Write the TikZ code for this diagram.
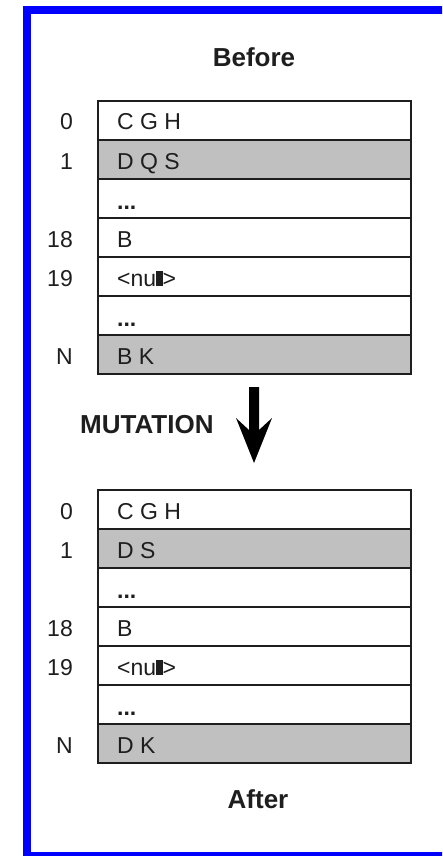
\documentclass[tikz,border=0pt]{standalone}
\usepackage{fontspec}
\setmainfont{Liberation Sans}
\definecolor{cellgray}{RGB}{192,192,192}
\definecolor{frameblue}{RGB}{0,0,255}
\definecolor{ink}{RGB}{30,30,30}
\newcommand\mydots{\raisebox{-1.5pt}{\bfseries...}}
\newcommand\mynull{<nu\rule{6.5pt}{15.5pt}>}
\begin{document}
\begin{tikzpicture}[x=1pt,y=-1pt,
  row/.style={draw=ink, line width=2pt, minimum width=313pt, minimum height=39pt, inner sep=0pt, anchor=north west},
  shaded/.style={fill=cellgray},
  celltext/.style={anchor=base west, inner sep=0pt, font=\fontsize{23}{27}\selectfont, text=ink},
  idx/.style={anchor=base east, inner sep=0pt, font=\fontsize{23}{27}\selectfont, text=ink},
  title/.style={anchor=base, inner sep=0pt, font=\bfseries\fontsize{26}{30}\selectfont, text=ink}
]
\useasboundingbox (0,0) rectangle (442,856);
\clip (0,0) rectangle (442,856);
\fill[white] (0,0) rectangle (442,856);
\draw[frameblue, line width=8pt] (460,10) -- (27,10) -- (27,856) -- (460,856);

% Before table
\node[title] (tBefore) at (254,67) {Before};
\node[row] (b0) at (97,100) {};
\node[row,shaded] (b1) at (97,139) {};
\node[row] (b2) at (97,178) {};
\node[row] (b3) at (97,217) {};
\node[row] (b4) at (97,256) {};
\node[row] (b5) at (97,295) {};
\node[row,shaded] (b6) at (97,334) {};

\foreach \r/\i/\t in {0/0/C G H, 1/1/D Q S, 2//\mydots, 3/18/B, 4/19/\mynull, 5//\mydots, 6/N/B K}{
  \node[celltext] (bt\r) at ([xshift=20pt,yshift=-9.5pt]b\r.west) {\t};
  \node[idx] (bi\r) at ([xshift=-24pt,yshift=-9.5pt]b\r.west) {\i};
}

% Mutation arrow
\node[title, anchor=base west] (mut) at (80,433) {MUTATION};
\fill[black] (249,387) -- (259,387) -- (259,430) -- (272,418) -- (254,463) -- (236,418) -- (249,430) -- cycle;

% After table
\node[row] (a0) at (97,489) {};
\node[row,shaded] (a1) at (97,528) {};
\node[row] (a2) at (97,567) {};
\node[row] (a3) at (97,606) {};
\node[row] (a4) at (97,645) {};
\node[row] (a5) at (97,684) {};
\node[row,shaded] (a6) at (97,723) {};

\foreach \r/\i/\t in {0/0/C G H, 1/1/D S, 2//\mydots, 3/18/B, 4/19/\mynull, 5//\mydots, 6/N/D K}{
  \node[celltext] (at\r) at ([xshift=20pt,yshift=-9.5pt]a\r.west) {\t};
  \node[idx] (ai\r) at ([xshift=-24pt,yshift=-9.5pt]a\r.west) {\i};
}
\node[title] (tAfter) at (258,808) {After};
\end{tikzpicture}
\end{document}
